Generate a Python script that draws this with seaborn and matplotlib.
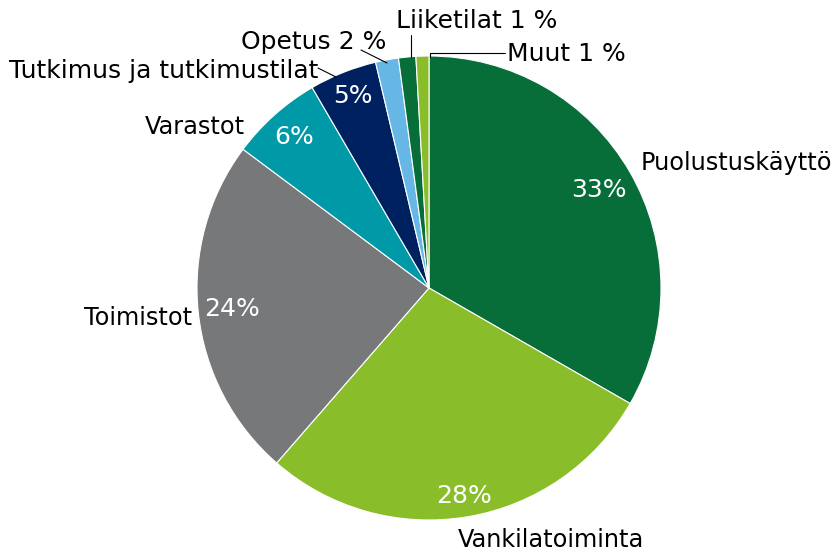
import numpy as np
import matplotlib
matplotlib.use("Agg")
import matplotlib.pyplot as plt
import seaborn as sns

# Käyttötarkoitukset ja osuudet (%)
categories = ["Puolustuskäyttö", "Vankilatoiminta", "Toimistot", "Varastot",
              "Tutkimus ja tutkimustilat", "Opetus", "Liiketilat", "Muut"]
shares = [33.3, 28.1, 23.8, 6.4, 4.7, 1.6, 1.2, 0.9]
shown = [33, 28, 24, 6, 5, 2, 1, 1]
colors = ["#076d39", "#8abd2a", "#76787a", "#0099a8",
          "#00215f", "#66b6e6", "#076d39", "#8abd2a"]

sns.set_theme(style="white")
plt.rcParams["font.family"] = ["DejaVu Sans"]

W, H = 835, 552
fig = plt.figure(figsize=(W / 100, H / 100), dpi=100)
ax = fig.add_axes([0, 0, 1, 1])

cx, cy, R = 429, H - 288, 232
wedges, _ = ax.pie(shares, colors=colors, startangle=90, counterclock=False,
                   center=(cx, cy), radius=R,
                   wedgeprops=dict(edgecolor="white", linewidth=0.8))
ax.set_xlim(0, W)
ax.set_ylim(0, H)
ax.set_aspect("equal")
ax.axis("off")

# prosenttiluvut viipaleiden sisällä
dist = [0.845, 0.91, 0.855, 0.87, 0.89]
for w, d, v in zip(wedges[:5], dist, shown[:5]):
    a = np.deg2rad((w.theta1 + w.theta2) / 2)
    ax.text(cx + d * R * np.cos(a), cy + d * R * np.sin(a), f"{v}%",
            color="white", fontsize=18, ha="center", va="center")

def py(y):
    return H - y

big = dict(fontsize=17.3, color="black", va="center")
ax.text(641, py(163), categories[0], ha="left", **big)
ax.text(458, py(540), categories[1], ha="left", **big)
ax.text(192, py(318), categories[2], ha="right", **big)
ax.text(245, py(127), categories[3], ha="right", **big)

small = dict(fontsize=18, color="black", va="center")
ax.text(318, py(71), categories[4], ha="right", **small)
ax.text(386, py(42), f"{categories[5]} {shown[5]} %", ha="right", **small)
ax.text(396, py(21), f"{categories[6]} {shown[6]} %", ha="left", **small)
ax.text(507, py(54), f"{categories[7]} {shown[7]} %", ha="left", **small)

# johtoviivat
ln = dict(color="black", linewidth=0.8)
ax.plot([318, 336], [py(68), py(77)], **ln)
ax.plot([361, 387], [py(50), py(63)], **ln)
ax.plot([411, 411], [py(35), py(57)], **ln)
ax.plot([430, 430, 505], [py(57), py(53), py(53)], **ln)

fig.savefig("out.png", dpi=100, facecolor="white")
